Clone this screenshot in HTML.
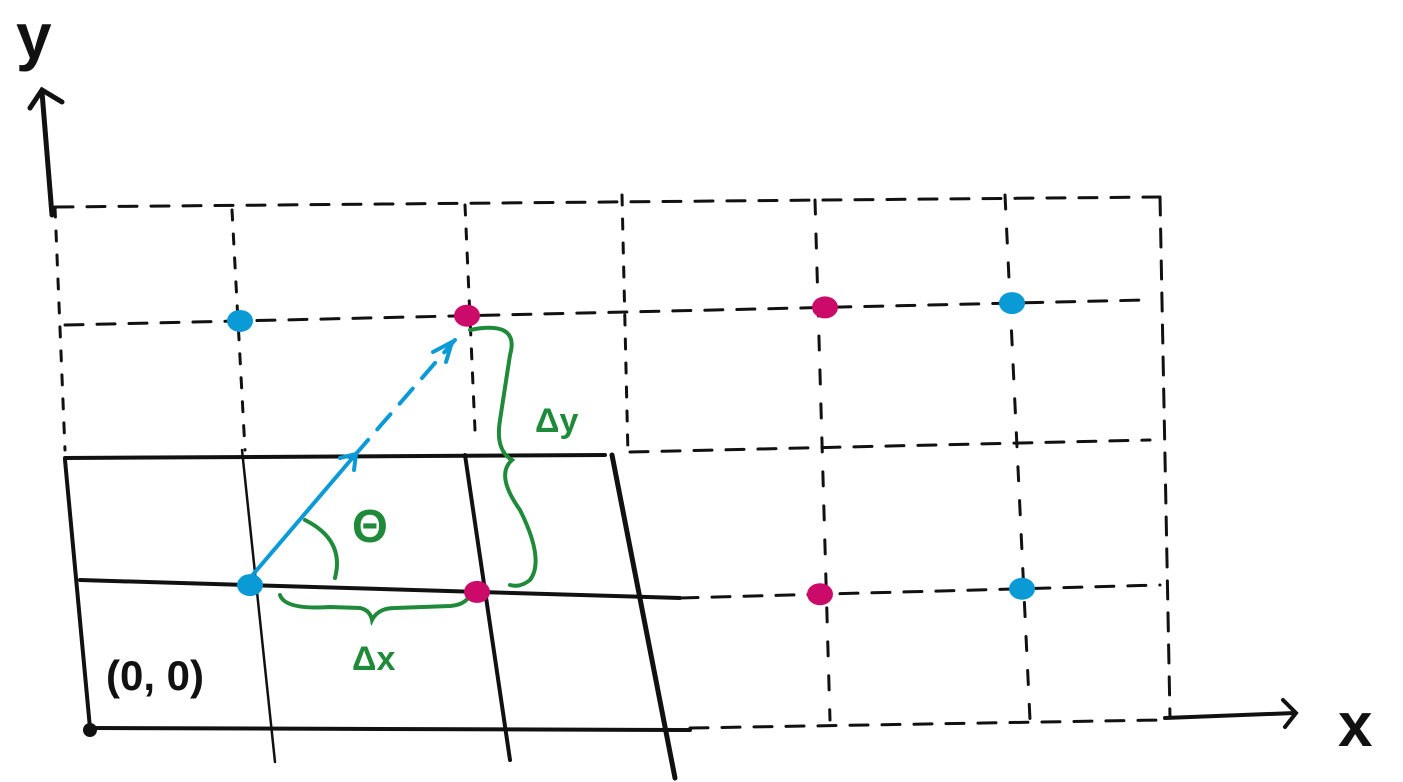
<!DOCTYPE html>
<html><head><meta charset="utf-8"><style>
html,body{margin:0;padding:0;background:#fff;}
svg{display:block;}
text{font-family:"Comic Sans MS","Liberation Sans",sans-serif;}
</style></head><body>
<svg id="c" width="1403" height="782" viewBox="0 0 1403 782">
<g fill="none" stroke="#111" stroke-linecap="round">
 <path d="M52,215 L42,92" stroke-width="5"/>
 <path d="M30,108 L42,90 L62,102" stroke-width="5"/>
 <path d="M1165,718 L1295,713" stroke-width="4"/>
 <path d="M1283,700 L1296,713 L1285,727" stroke-width="4"/>
 <g stroke-width="4">
  <path d="M65,458 L605,455"/>
  <path d="M80,580 L680,598"/>
  <path d="M90,728 L690,730"/>
  <path d="M65,460 L90,728"/>
  <path d="M242,450 L275,762" stroke-width="2.5"/>
  <path d="M465,455 L510,760"/>
  <path d="M612,455 L675,778" stroke-width="5"/>
 </g>
 <g stroke-width="3" stroke-dasharray="18 14">
  <path d="M55,207 L1160,197"/>
  <path d="M1160,197 L1170,718"/>
  <path d="M65,325 L1145,300"/>
  <path d="M630,452 L1150,440"/>
  <path d="M680,598 L1160,585"/>
  <path d="M690,728 L1160,720"/>
  <path d="M55,207 L65,450" stroke-dasharray="10 14"/>
  <path d="M232,210 L245,450" stroke-dasharray="10 14"/>
  <path d="M465,205 L475,430" stroke-dasharray="10 14"/>
  <path d="M622,195 L628,455" stroke-dasharray="10 14"/>
  <path d="M815,200 L830,720" stroke-dasharray="14 20"/>
  <path d="M1005,195 L1030,720" stroke-dasharray="14 20"/>
 </g>
 <path d="M250,578 L355,455" stroke="#0a9ad6" stroke-width="4"/>
 <path d="M355,455 L455,340" stroke="#0a9ad6" stroke-width="4" stroke-dasharray="20 14"/>
 <path d="M340,458 L356,454 L354,470" stroke="#0a9ad6" stroke-width="4"/>
 <path d="M433,352 L452,342 L446,362" stroke="#0a9ad6" stroke-width="4"/>
 <g stroke="#1f8a3a" stroke-width="4">
  <path d="M305,520 Q345,540 335,578"/>
  <path d="M280,595 Q285,610 330,607 L360,608 Q370,610 372,620 Q378,608 395,608 L450,606 Q465,605 470,595"/>
  <path d="M470,330 Q520,320 510,355 L500,420 Q495,450 512,460 Q495,475 520,510 Q545,560 530,580 Q520,588 510,585"/>
 </g>
</g>
<text x="352" y="542" font-size="46" font-weight="bold" fill="#1f8a3a">Θ</text>
<text x="352" y="670" font-size="34" font-weight="bold" fill="#1f8a3a">Δx</text>
<text x="535" y="432" font-size="34" font-weight="bold" fill="#1f8a3a">Δy</text>
<text x="106" y="690" font-size="42" font-weight="bold" fill="#111">(0, 0)</text>
<text x="16" y="58" font-size="64" font-weight="bold" fill="#111">y</text>
<text x="1338" y="746" font-size="62" font-weight="bold" fill="#111">x</text>
<circle cx="90" cy="730" r="7" fill="#111"/>
<g id="dots"></g>
<script>
const bluePoints = [[1,2.5],[5,2.5],[1,1.5],[5,1.5]];
const redPoints = [[2,2.5],[4,2.5],[2,1.5],[4,1.5]];
const colX = [[58,68],[240,250],[467,477],[622,630],[825,820],[1012,1022]];
function xAt(c,r){const i=Math.floor(c),a=colX[i];return r>=2?a[0]:a[1];}
function yAt(c,r){
  const x=xAt(c,r);
  if(r>=2){return 325+(300-325)*(x-65)/(1145-65);}
  return 580+(598-580)*(x-80)/(600)*(x<680?1:0)+(x>=680?(598+(585-598)*(x-680)/480)-580:0);
}
const g=document.getElementById('dots');
function dot(p,color,name){
  const e=document.createElementNS('http://www.w3.org/2000/svg','ellipse');
  e.setAttribute('cx',xAt(p[0],p[1]));e.setAttribute('cy',yAt(p[0],p[1]));
  e.setAttribute('rx',13);e.setAttribute('ry',11);e.setAttribute('fill',color);
  
  
  g.appendChild(e);
}
bluePoints.forEach(p=>dot(p,'#0a9ad6','blue-point'));
redPoints.forEach(p=>dot(p,'#cc0a6a','magenta-point'));
</script>
</svg>
</body></html>
